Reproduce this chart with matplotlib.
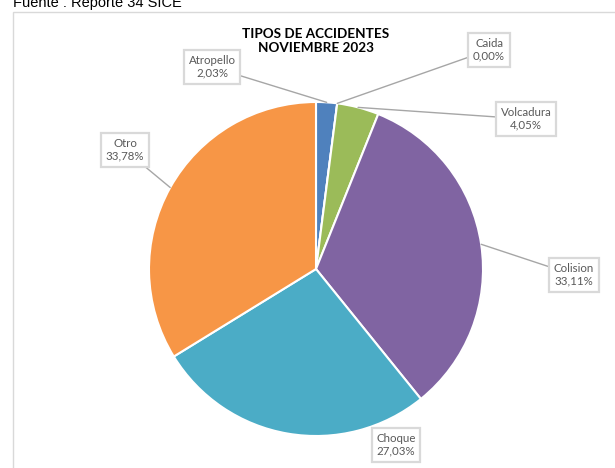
import matplotlib
matplotlib.use('Agg')
import matplotlib.pyplot as plt
import numpy as np
from matplotlib.patches import Rectangle

# ---- data ----
categories = ['Atropello', 'Caida', 'Volcadura', 'Colision', 'Choque', 'Otro']
values = [2.03, 0.00, 4.05, 33.11, 27.03, 33.78]
colors = ['#4F81BD', '#C0504D', '#9BBB59', '#8064A2', '#4BACC6', '#F79646']
title_lines = ['TIPOS DE ACCIDENTES', 'NOVIEMBRE 2023']
source_text = 'Fuente : Reporte 34 SICE'

# ---- layout (pixel coordinates, origin top-left) ----
W, H = 615, 468
center_px = (316, 269)
radius_px = 167
label_box_px = {
    'Atropello': (212, 67),
    'Caida': (489, 50),
    'Volcadura': (526, 119),
    'Colision': (574, 275),
    'Choque': (396, 445),
    'Otro': (125, 150),
}
no_leader = {'Choque'}

fig = plt.figure(figsize=(W / 100, H / 100), dpi=100)
ax = fig.add_axes([0, 0, 1, 1])

def py(y):
    return H - y

cx, cy = center_px[0], py(center_px[1])
wedges, _ = ax.pie(values, colors=colors, startangle=90, counterclock=False,
                   center=(cx, cy), radius=radius_px,
                   wedgeprops=dict(edgecolor='white', linewidth=1.5))
ax.set_xlim(0, W)
ax.set_ylim(0, H)
ax.set_aspect('auto')
ax.axis('off')

# chart border
ax.add_patch(Rectangle((13, -10), W, py(12) + 10, fill=False,
                       ec='#D9D9D9', lw=1, zorder=0))

# labels
lab_font = 'Lato'
for w, name, v in zip(wedges, categories, values):
    ang = np.deg2rad((w.theta1 + w.theta2) / 2)
    ex = cx + radius_px * np.cos(ang)
    ey = cy + radius_px * np.sin(ang)
    bx, by = label_box_px[name]
    txt = f"{name}\n{v:.2f}%".replace('.', ',')
    arrow = None if name in no_leader else dict(arrowstyle='-', color='#A6A6A6', lw=1,
                                                  shrinkA=0, shrinkB=0)
    ax.annotate(txt, xy=(ex, ey), xytext=(bx, py(by)), ha='center', va='center',
                fontsize=8.3, color='#595959', family=lab_font, linespacing=1.2,
                arrowprops=arrow,
                bbox=dict(boxstyle='square,pad=0.4', fc='white', ec='#D9D9D9', lw=1.6),
                zorder=5)

# title
ax.text(316, py(41), '\n'.join(title_lines), ha='center', va='center',
        fontsize=9.7, fontweight='bold', family='Lato', color='#000000',
        linespacing=1.3)

# source text (partially cut off at top, as in the reference)
ax.text(13, py(7.5), source_text, ha='left', va='baseline', fontsize=10.5,
        family='Liberation Sans', color='#000000')

fig.savefig('out.png', dpi=100)
